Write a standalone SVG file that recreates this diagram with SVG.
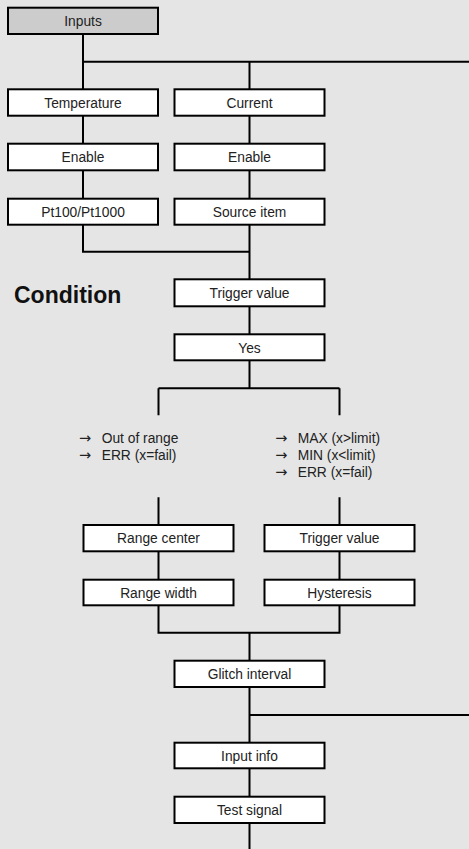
<svg xmlns="http://www.w3.org/2000/svg" width="469" height="849" viewBox="0 0 469 849">
<style>
.bg{fill:#e5e5e5}
.box{fill:#ffffff;stroke:#000;stroke-width:2}
.head{fill:#cccccc;stroke:#000;stroke-width:2}
.lbl{font-family:"Liberation Sans",Arial,sans-serif;font-size:13.8px;fill:#222;text-anchor:middle}
.lst{font-family:"Liberation Sans",Arial,sans-serif;font-size:13.8px;fill:#222}
.arr{font-family:"DejaVu Sans",sans-serif;font-size:14.5px}
.ttl{font-family:"Liberation Sans",Arial,sans-serif;font-size:23px;font-weight:bold;fill:#111}
.con{fill:none;stroke:#000;stroke-width:2}
</style>
<rect class="bg" x="0" y="0" width="469" height="849"/>
<g id="connectors">
<path class="con" d="M83 34.7V251.7H249.5M83 61.7H469M249.5 61.7V388.3M158.5 388.3H339.5M158.5 388.3V415.3M339.5 388.3V415.3M158.5 497.3V632.7H339.5V497.3M249.5 632.7V849M249.5 715H469"/>
</g>
<text class="ttl" x="14" y="303">Condition</text>
<g id="inputs"><rect class="head" x="8" y="7.7" width="150" height="26.3"/><text class="lbl" x="83" y="26">Inputs</text></g>
<g id="temperature"><rect class="box" x="8" y="89.3" width="150" height="26.4"/><text class="lbl" x="83" y="107.5">Temperature</text></g>
<g id="current"><rect class="box" x="174.5" y="89.3" width="150" height="26.4"/><text class="lbl" x="249.5" y="107.5">Current</text></g>
<g id="enable1"><rect class="box" x="8" y="143.7" width="150" height="26.6"/><text class="lbl" x="83" y="162">Enable</text></g>
<g id="enable2"><rect class="box" x="174.5" y="143.7" width="150" height="26.6"/><text class="lbl" x="249.5" y="162">Enable</text></g>
<g id="pt100"><rect class="box" x="8" y="198.7" width="150" height="26"/><text class="lbl" x="83" y="216.8">Pt100/Pt1000</text></g>
<g id="source"><rect class="box" x="174.5" y="198.7" width="150" height="26"/><text class="lbl" x="249.5" y="216.8">Source item</text></g>
<g id="trigger1"><rect class="box" x="174.5" y="279.3" width="150" height="27"/><text class="lbl" x="249.5" y="297.8">Trigger value</text></g>
<g id="yes"><rect class="box" x="174.5" y="334.3" width="150" height="26"/><text class="lbl" x="249.5" y="352.5">Yes</text></g>
<g id="list1">
<text class="lst" y="443"><tspan class="arr" x="79">→</tspan><tspan x="101.7">Out of range</tspan></text>
<text class="lst" y="460"><tspan class="arr" x="79">→</tspan><tspan x="101.7">ERR (x=fail)</tspan></text>
</g>
<g id="list2">
<text class="lst" y="443"><tspan class="arr" x="275.3">→</tspan><tspan x="297.7">MAX (x&gt;limit)</tspan></text>
<text class="lst" y="460"><tspan class="arr" x="275.3">→</tspan><tspan x="297.7">MIN (x&lt;limit)</tspan></text>
<text class="lst" y="477"><tspan class="arr" x="275.3">→</tspan><tspan x="297.7">ERR (x=fail)</tspan></text>
</g>
<g id="rangecenter"><rect class="box" x="83.5" y="525" width="150" height="26.3"/><text class="lbl" x="158.5" y="543.3">Range center</text></g>
<g id="trigger2"><rect class="box" x="264.5" y="525" width="150" height="26.3"/><text class="lbl" x="339.5" y="543.3">Trigger value</text></g>
<g id="rangewidth"><rect class="box" x="83.5" y="579.7" width="150" height="25.6"/><text class="lbl" x="158.5" y="597.5">Range width</text></g>
<g id="hysteresis"><rect class="box" x="264.5" y="579.7" width="150" height="25.6"/><text class="lbl" x="339.5" y="597.5">Hysteresis</text></g>
<g id="glitch"><rect class="box" x="174.5" y="660.7" width="150" height="26.3"/><text class="lbl" x="249.5" y="679">Glitch interval</text></g>
<g id="inputinfo"><rect class="box" x="174.5" y="742.7" width="150" height="25.6"/><text class="lbl" x="249.5" y="760.5">Input info</text></g>
<g id="testsignal"><rect class="box" x="174.5" y="796.7" width="150" height="26.3"/><text class="lbl" x="249.5" y="815">Test signal</text></g>
</svg>
